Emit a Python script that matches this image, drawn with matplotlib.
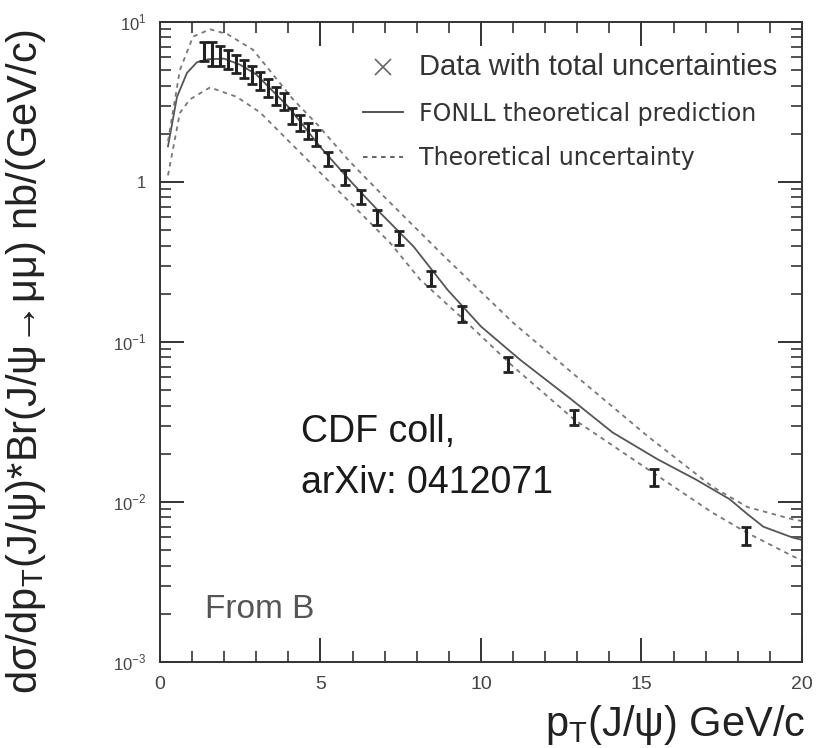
"""CDF J/psi from B: d(sigma)/dpT vs FONLL prediction."""
import matplotlib
matplotlib.use("Agg")
import matplotlib.pyplot as plt
from matplotlib.lines import Line2D
from matplotlib.ticker import FixedLocator, LogLocator, FuncFormatter, MultipleLocator

plt.rcParams["font.family"] = ["Liberation Sans", "DejaVu Sans"]
plt.rcParams["mathtext.fontset"] = "custom"
plt.rcParams["mathtext.rm"] = "Liberation Sans"

# measured points (bin centres, GeV/c) and cross sections (nb/(GeV/c))
pt_data = [1.375, 1.625, 1.875, 2.125, 2.375, 2.625, 2.875, 3.125, 3.375, 3.625,
           3.875, 4.125, 4.375, 4.625, 4.875, 5.25, 5.75, 6.25, 6.75, 7.45,
           8.45, 9.4, 10.85, 12.9, 15.4, 18.25]
xs_data = [6.6, 6.4, 6.2, 5.9, 5.5, 5.1, 4.7, 4.3, 3.9, 3.5,
           3.2, 2.6, 2.35, 2.1, 1.9, 1.4, 1.07, 0.81, 0.60, 0.45,
           0.25, 0.15, 0.073, 0.034, 0.0143, 0.0062]
xs_err = [0.9, 1.1, 0.9, 0.8, 0.7, 0.65, 0.6, 0.55, 0.5, 0.45,
          0.4, 0.3, 0.27, 0.24, 0.22, 0.15, 0.11, 0.085, 0.065, 0.045,
          0.027, 0.017, 0.008, 0.0038, 0.0017, 0.0008]

# FONLL central prediction
pt_fonll = [0.25, 0.53, 0.84, 1.15, 1.5, 2.0, 2.5, 3.0, 4.0, 5.0, 6.0, 6.85, 7.9,
            8.95, 10.0, 11.2, 12.8, 14.1, 15.5, 16.7, 17.75, 18.3, 18.8, 19.7, 20.0]
xs_fonll = [1.67, 3.4, 4.8, 5.6, 5.85, 5.9, 5.4, 4.7, 2.95, 1.65, 0.98, 0.645, 0.395,
            0.213, 0.125, 0.078, 0.044, 0.0272, 0.0185, 0.0138, 0.0104, 0.0084,
            0.0070, 0.0060, 0.0058]

# theoretical uncertainty band edges
pt_up = [0.25, 0.62, 1.03, 1.56, 2.1, 2.9, 4.15, 4.9, 5.9, 6.85, 8.94, 11.0, 13.1,
         15.2, 17.2, 18.3, 19.7, 20.0]
xs_up = [1.8, 5.0, 8.1, 9.0, 8.4, 6.7, 3.28, 2.29, 1.35, 0.86, 0.33, 0.132, 0.058,
         0.0257, 0.0125, 0.0093, 0.0078, 0.0076]
pt_lo = [0.25, 0.62, 0.93, 1.56, 2.4, 3.12, 4.2, 5.2, 6.23, 7.2, 8.1, 9.35, 11.0,
         12.9, 15.2, 17.2, 18.3, 19.7, 20.0]
xs_lo = [1.1, 2.7, 3.28, 3.9, 3.4, 2.72, 1.65, 1.04, 0.645, 0.41, 0.246, 0.145,
         0.0703, 0.0328, 0.016, 0.0086, 0.0064, 0.0046, 0.0043]

fig = plt.figure(figsize=(8.34, 7.48), dpi=100)
ax = fig.add_axes([0.1918, 0.115, 0.7698, 0.8556])

ax.plot(pt_fonll, xs_fonll, color="#555555", lw=1.3)
ax.plot(pt_up, xs_up, color="#777777", lw=1.3, ls=(0, (2.5, 2.5)))
ax.plot(pt_lo, xs_lo, color="#777777", lw=1.3, ls=(0, (2.5, 2.5)))
ax.errorbar(pt_data, xs_data, yerr=xs_err, fmt="none", ecolor="#222222",
            elinewidth=2.2, capsize=3.5, capthick=2.0)

ax.set_yscale("log")
ax.set_xlim(0, 20)
ax.set_ylim(1e-3, 10)

ax.xaxis.set_major_locator(MultipleLocator(5))
ax.xaxis.set_minor_locator(MultipleLocator(1))
ax.yaxis.set_major_locator(FixedLocator([1e-3, 1e-2, 1e-1, 1, 10]))
ax.yaxis.set_minor_locator(LogLocator(base=10, subs=range(2, 10)))


def _ylab(v, pos):
    exps = {1e-3: "-3", 1e-2: "-2", 1e-1: "-1", 10: "1"}
    for k, e in exps.items():
        if abs(v - k) < k * 1e-6:
            return r"$10^{%s}$" % e
    return "1"


ax.yaxis.set_major_formatter(FuncFormatter(_ylab))
ax.tick_params(which="both", direction="in", top=True, right=True,
               colors="#333333", labelcolor="#444444")
ax.tick_params(which="major", length=17, width=1.4, labelsize=14, pad=10)
ax.tick_params(which="minor", length=8, width=1.2)
ax.tick_params(axis="y", which="major", labelsize=12)
for s in ax.spines.values():
    s.set_linewidth(1.4)
    s.set_color("#333333")

ax.set_xlabel(r"p$_\mathrm{T}$(J/ψ) GeV/c", fontsize=30, ha="right",
              color="#222222")
ax.xaxis.set_label_coords(1.005, -0.064)
ax.set_ylabel(r"dσ/dp$_\mathrm{T}$(J/ψ)*Br(J/ψ→μμ) nb/(GeV/c)", fontsize=30,
              color="#222222")
ax.yaxis.set_label_coords(-0.175, 0.47)

ax.text(0.22, 0.388, "CDF coll,\narXiv: 0412071", transform=ax.transAxes,
        fontsize=27, color="#1a1a1a", va="top", linespacing=1.55)
ax.text(0.07, 0.058, "From B", transform=ax.transAxes, fontsize=24,
        color="#555555", va="bottom")

handles = [
    Line2D([], [], ls="none", marker="x", ms=11, mew=1.2, color="#666666"),
    Line2D([], [], color="#444444", lw=1.3),
    Line2D([], [], color="#555555", lw=1.3, ls=(0, (2.5, 2.5))),
]
labels = ["Data with total uncertainties", "FONLL theoretical prediction",
          "Theoretical uncertainty"]
leg = ax.legend(handles, labels, loc="upper right", bbox_to_anchor=(0.995, 0.985),
                frameon=False, handlelength=1.7, handletextpad=0.7,
                labelspacing=0.88, fontsize=17)
for i, t in enumerate(leg.get_texts()):
    t.set_color("#333333")
    if i == 0:
        t.set_fontsize(21)
    else:
        t.set_family("DejaVu Sans")

fig.savefig("out.png", dpi=100)
